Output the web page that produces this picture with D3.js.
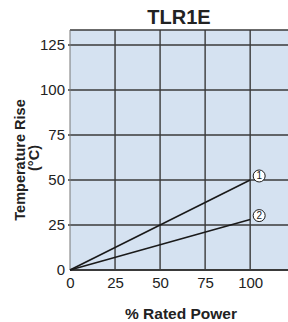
<!doctype html>
<html lang="en">
<head>
<meta charset="UTF-8">
<title>TLR1E</title>
<style>
  body { margin: 0; background: #fff; }
  svg { display: block; font-family: "Liberation Sans", Arial, sans-serif; }
  .grid line { stroke: #3a3a3a; stroke-width: 1.4px; }
  .tick text { font-size: 15px; fill: #222; }
  .series { fill: none; stroke: #1a1a1a; stroke-width: 1.6px; }
</style>
</head>
<body>
<svg width="288" height="322"></svg>
<script src="https://d3js.org/d3.v7.min.js"></script>
<script>
  const powerPct = [0, 100]
  const riseLine1 = [0, 50]
  const riseLine2 = [0, 28]
  const seriesLabels = ['1', '2']
  const xTicks = [0, 25, 50, 75, 100]
  const yTicks = [0, 25, 50, 75, 100, 125]

  const svg = d3.select('svg')
  const pLeft = 70, pTop = 30, pRight = 288, pBottom = 270

  const x = d3.scaleLinear().domain([0, 121]).range([pLeft, pRight])
  const y = d3.scaleLinear().domain([0, 133.3]).range([pBottom, pTop])

  // plot background
  svg.append('rect')
    .attr('x', pLeft).attr('y', pTop)
    .attr('width', pRight - pLeft).attr('height', pBottom - pTop)
    .attr('fill', '#d5e2f1')

  // grid
  const grid = svg.append('g').attr('class', 'grid')
  grid.selectAll('line.v')
    .data(xTicks.slice(1))
    .enter().append('line')
    .attr('x1', d => x(d)).attr('x2', d => x(d))
    .attr('y1', pTop).attr('y2', pBottom)
  grid.selectAll('line.h')
    .data(yTicks.slice(1))
    .enter().append('line')
    .attr('x1', pLeft - 2).attr('x2', pRight)
    .attr('y1', d => y(d)).attr('y2', d => y(d))
  grid.append('line')
    .attr('x1', pLeft).attr('x2', pRight)
    .attr('y1', pTop).attr('y2', pTop)
  grid.append('line')
    .attr('x1', pLeft).attr('x2', pLeft)
    .attr('y1', pTop).attr('y2', pBottom)
    .style('stroke', '#777').style('stroke-width', 1)
  grid.append('line')
    .attr('x1', pLeft).attr('x2', pRight)
    .attr('y1', pBottom).attr('y2', pBottom)
    .style('stroke-width', 1.8)

  // axes labels
  const xAxis = svg.append('g')
    .attr('transform', `translate(0,${pBottom})`)
    .call(d3.axisBottom(x).tickValues(xTicks).tickSize(0).tickPadding(7))
  xAxis.select('.domain').remove()

  const yAxis = svg.append('g')
    .attr('transform', `translate(${pLeft},0)`)
    .call(d3.axisLeft(y).tickValues(yTicks).tickSize(0).tickPadding(5))
  yAxis.select('.domain').remove()

  // series lines
  const line = d3.line().x((d, i) => x(powerPct[i])).y(d => y(d))
  const series = [riseLine1, riseLine2]
  svg.selectAll('path.series')
    .data(series)
    .enter().append('path')
    .attr('class', 'series')
    .attr('d', d => line(d))

  // numbered markers
  const marks = svg.selectAll('g.mark')
    .data(series)
    .enter().append('g')
    .attr('transform', (d, i) => `translate(${x(powerPct[1]) + 9},${y(d[1]) - 4})`)
  marks.append('circle')
    .attr('r', 6)
    .attr('fill', '#fff').attr('stroke', '#1a1a1a').attr('stroke-width', 1)
  marks.append('text')
    .attr('text-anchor', 'middle').attr('dy', '0.35em')
    .attr('font-size', 10).attr('fill', '#1a1a1a')
    .text((d, i) => seriesLabels[i])

  // titles
  svg.append('text')
    .attr('x', (pLeft + pRight) / 2).attr('y', 24)
    .attr('text-anchor', 'middle')
    .attr('font-size', 20).attr('font-weight', 'bold').attr('fill', '#222')
    .text('TLR1E')

  svg.append('text')
    .attr('x', (pLeft + pRight) / 2 + 2).attr('y', 319)
    .attr('text-anchor', 'middle')
    .attr('font-size', 15.5).attr('font-weight', 'bold').attr('fill', '#222')
    .text('% Rated Power')

  const yt = svg.append('text')
    .attr('transform', `translate(25,160) rotate(-90)`)
    .attr('text-anchor', 'middle')
    .attr('font-size', 14.5).attr('font-weight', 'bold').attr('fill', '#222')
  yt.append('tspan').attr('x', 0).attr('dy', 0).text('Temperature Rise')
  yt.append('tspan').attr('x', 2).attr('dy', 14).text('(°C)')
</script>
</body>
</html>
